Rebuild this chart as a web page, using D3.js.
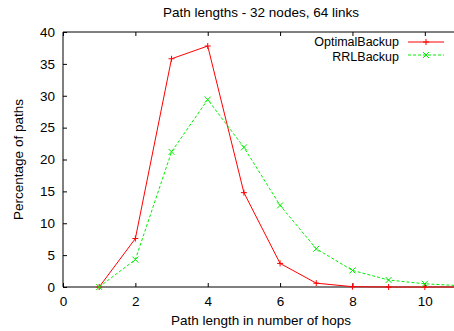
<!DOCTYPE html>
<html>
<head>
<meta charset="utf-8">
<script src="https://cdn.jsdelivr.net/npm/d3@7"></script>
<style>
  body { margin: 0; background: #fff; }
  text { font-family: "Liberation Sans", Arial, sans-serif; fill: #000; }
</style>
</head>
<body>
<svg id="chart" width="454" height="331"></svg>
<script>
// data
const hops = [1, 2, 3, 4, 5, 6, 7, 8, 9, 10, 11];
const optimal = [0, 7.6, 35.8, 37.8, 14.8, 3.7, 0.6, 0.05, 0, 0, 0];
const rrl = [0, 4.3, 21.2, 29.4, 21.9, 12.8, 6.0, 2.6, 1.1, 0.5, 0.2];
const xTicks = [0, 2, 4, 6, 8, 10];
const yTicks = [0, 5, 10, 15, 20, 25, 30, 35, 40];

const fs = '13.5px';
const svg = d3.select('#chart');
const margin = {left: 63, top: 32, bottom: 44};
const W = 461, H = 331;

const x = d3.scaleLinear().domain([0, 11]).range([margin.left, W]);
const y = d3.scaleLinear().domain([0, 40]).range([H - margin.bottom, margin.top]);

const plot = svg.append('g');

// border (top, left, bottom)
plot.append('path')
    .attr('d', `M${x(11)},${y(40)}H${x(0)}V${y(0)}H${x(11)}`)
    .attr('fill', 'none')
    .attr('stroke', '#000')
    .attr('stroke-width', 1);

// x ticks, bottom and mirrored top
const xAxis = d3.axisBottom(x).tickValues(xTicks).tickSize(-4).tickPadding(9);
plot.append('g').attr('transform', `translate(0,${y(0)})`).call(xAxis);
plot.append('g').attr('transform', `translate(0,${y(40)})`)
    .call(d3.axisTop(x).tickValues(xTicks).tickSize(-4).tickFormat(''));

const yAxis = d3.axisLeft(y).tickValues(yTicks).tickSize(-4).tickPadding(8);
plot.append('g').attr('transform', `translate(${x(0)},0)`).call(yAxis);

plot.selectAll('.domain').remove();
plot.selectAll('.tick text').style('font-size', fs)
    .style('font-family', '"Liberation Sans", Arial, sans-serif');

// lines
const line = d3.line().x((d, i) => x(hops[i])).y(d => y(d));

plot.append('path').datum(optimal)
    .attr('d', line)
    .attr('fill', 'none')
    .attr('stroke', '#ff0000')
    .attr('stroke-width', 1);

plot.append('path').datum(rrl)
    .attr('d', line)
    .attr('fill', 'none')
    .attr('stroke', '#00ee00')
    .attr('stroke-width', 1)
    .attr('stroke-dasharray', '3,2');

// markers
const s = 3;
function plus(g, cx, cy, c) {
  g.append('path').attr('d', `M${cx - s},${cy}H${cx + s}M${cx},${cy - s}V${cy + s}`)
   .attr('stroke', c).attr('stroke-width', 1);
}
function cross(g, cx, cy, c) {
  g.append('path').attr('d', `M${cx - s},${cy - s}L${cx + s},${cy + s}M${cx - s},${cy + s}L${cx + s},${cy - s}`)
   .attr('stroke', c).attr('stroke-width', 1);
}
optimal.forEach((v, i) => plus(plot, x(hops[i]), y(v), '#ff0000'));
rrl.forEach((v, i) => cross(plot, x(hops[i]), y(v), '#00ee00'));

// legend
const lfs = '12.5px';
const legend = svg.append('g');
legend.append('text').attr('x', 399).attr('y', 46).attr('text-anchor', 'end')
      .style('font-size', lfs).text('OptimalBackup');
legend.append('line').attr('x1', 408).attr('x2', 444).attr('y1', 42).attr('y2', 42)
      .attr('stroke', '#ff0000');
plus(legend, 426, 42, '#ff0000');
legend.append('text').attr('x', 399).attr('y', 60.5).attr('text-anchor', 'end')
      .style('font-size', lfs).text('RRLBackup');
legend.append('line').attr('x1', 408).attr('x2', 444).attr('y1', 55).attr('y2', 55)
      .attr('stroke', '#00ee00').attr('stroke-dasharray', '3,2');
cross(legend, 426, 55, '#00ee00');

// titles
svg.append('text').attr('x', 261).attr('y', 17).attr('text-anchor', 'middle')
   .style('font-size', fs).text('Path lengths - 32 nodes, 64 links');
svg.append('text').attr('x', 261).attr('y', 325).attr('text-anchor', 'middle')
   .style('font-size', fs).text('Path length in number of hops');
svg.append('text').attr('transform', `translate(23,${(y(0) + y(40)) / 2}) rotate(-90)`)
   .attr('text-anchor', 'middle')
   .style('font-size', fs).text('Percentage of paths');
</script>
</body>
</html>
